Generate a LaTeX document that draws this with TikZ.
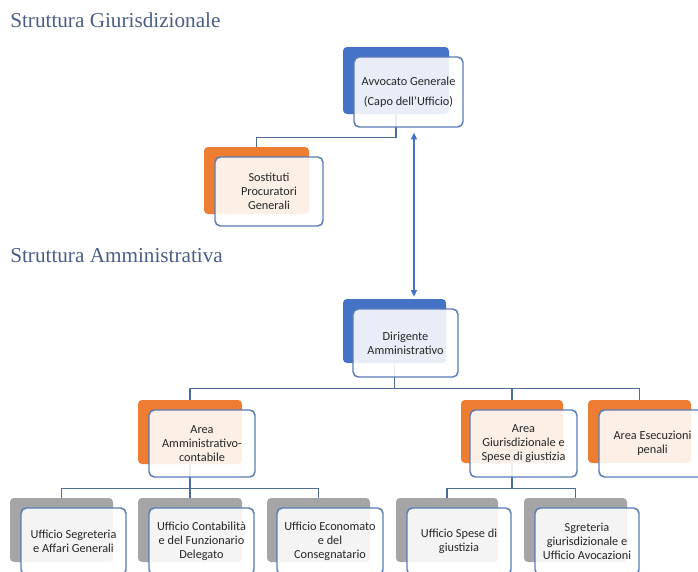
\documentclass[tikz,border=0pt]{standalone}
\usepackage{fontspec}
\setmainfont{Carlito}
\newfontfamily\titlefont{Liberation Serif}
\usetikzlibrary{arrows.meta,calc}
\definecolor{cblue}{HTML}{4472C4}
\definecolor{corange}{HTML}{ED7D31}
\definecolor{cgray}{HTML}{A5A5A5}
\definecolor{cborder}{HTML}{5A7BB8}
\definecolor{cconn}{HTML}{4F6B9A}
\definecolor{ctitle}{HTML}{4A5E88}
\definecolor{ctext}{HTML}{262626}
\pgfdeclarelayer{bg}
\pgfsetlayers{bg,main}
\tikzset{
  sz/.style 2 args={minimum width=#1*0.75pt, minimum height=#2*0.75pt},
  backbox/.style={rounded corners=3pt, inner sep=0pt, draw=none},
  frontbox/.style={rounded corners=4pt, draw=cborder, line width=1.1pt, fill=white, fill opacity=0.88, text opacity=1, inner sep=0pt, align=center, text=ctext, font=\fontsize{9.2}{10.4}\selectfont},
  conn/.style={draw=cconn, line width=1.1pt},
  titletext/.style={font=\titlefont\fontsize{15.9}{18}\selectfont, text=ctitle, inner sep=0pt, anchor=base west},
  dblarrow/.style={{Triangle[width=4.5pt,length=5pt]}-{Triangle[width=4.5pt,length=5pt]}, draw=cblue, fill=cblue, line width=0.9pt},
}
\begin{document}
\begin{tikzpicture}[x=0.75pt,y=-0.75pt]
\useasboundingbox (0,0) rectangle (698,571);
\begin{pgfonlayer}{bg}
  \fill[white] (0,0) rectangle (698,571);
\end{pgfonlayer}
\clip (0,0) rectangle (698,571);

% titles
\node[titletext] (t1) at (10,27) {Struttura Giurisdizionale};
\node[titletext] (t2) at (10,262) {Struttura Amministrativa};

% Avvocato Generale
\node[backbox, fill=cblue, sz={106}{67}] (avb) at (396,80.5) {};
\node[frontbox, sz={109}{70}] (avf) at (408.5,92) {Avvocato Generale\\[5pt](Capo dell'Ufficio)};

% Sostituti
\node[backbox, fill=corange, sz={105}{67}] (sob) at (256.5,180.5) {};
\node[frontbox, sz={108}{69}] (sof) at (269,191.5) {Sostituti\\Procuratori\\Generali};

% Dirigente
\node[backbox, fill=cblue, sz={103}{64}] (dib) at (394.5,331) {};
\node[frontbox, sz={105}{68}] (dif) at (405.5,343) {Dirigente\\Amministrativo};

% Areas
\node[backbox, fill=corange, sz={104}{64}] (amb) at (190,432) {};
\node[frontbox, sz={106}{67}] (amf) at (202,443.5) {Area\\Amministrativo-\\contabile};
\node[backbox, fill=corange, sz={102}{63}] (gib) at (512,431.5) {};
\node[frontbox, sz={107}{67}] (gif) at (523.5,443.5) {Area\\Giurisdizionale e\\Spese di giustizia};
\node[backbox, fill=corange, sz={103}{63}] (esb) at (639.5,431.5) {};
\node[frontbox, sz={107}{67}] (esf) at (652.5,443.5) {Area Esecuzioni\\penali};

% Uffici
\node[backbox, fill=cgray, sz={103}{64}] (u1b) at (61.5,530) {};
\node[frontbox, sz={105}{67}] (u1f) at (73.5,541.5) {Ufficio Segreteria\\e Affari Generali};
\node[backbox, fill=cgray, sz={104}{64}] (u2b) at (190,530) {};
\node[frontbox, sz={105}{67}] (u2f) at (201.5,541.5) {Ufficio Contabilità\\e del Funzionario\\Delegato};
\node[backbox, fill=cgray, sz={103}{64}] (u3b) at (318.5,530) {};
\node[frontbox, sz={106}{67}] (u3f) at (330,541.5) {Ufficio Economato\\e del\\Consegnatario};
\node[backbox, fill=cgray, sz={102}{64}] (u4b) at (447,530) {};
\node[frontbox, sz={104}{67}] (u4f) at (459,541.5) {Ufficio Spese di\\giustizia};
\node[backbox, fill=cgray, sz={103}{64}] (u5b) at (575.5,530) {};
\node[frontbox, sz={104}{67}] (u5f) at (587,541.5) {Sgreteria\\giurisdizionale e\\Ufficio Avocazioni};

\begin{pgfonlayer}{bg}
  \draw[conn] (avb.south) -- ++(0,23) -| (sob.north);
  \draw[conn] (dib.south) -- ++(0,25) coordinate (dj);
  \draw[conn] (amb.north) |- (dj) -| (esb.north);
  \draw[conn] (gib.north) -- (gib.north |- dj);
  \draw[conn] (amb.south) -- ++(0,24) coordinate (aj);
  \draw[conn] (u1b.north) |- (aj) -| (u3b.north);
  \draw[conn] (u2b.north) -- (u2b.north |- aj);
  \draw[conn] (gib.south) -- ++(0,25) coordinate (gj);
  \draw[conn] (u4b.north) |- (gj) -| (u5b.north);
\end{pgfonlayer}

\draw[dblarrow] ([xshift=4.1pt,yshift=-3.75pt]avf.south) -- ([xshift=14.6pt,yshift=1.5pt]dib.north);
\end{tikzpicture}
\end{document}
